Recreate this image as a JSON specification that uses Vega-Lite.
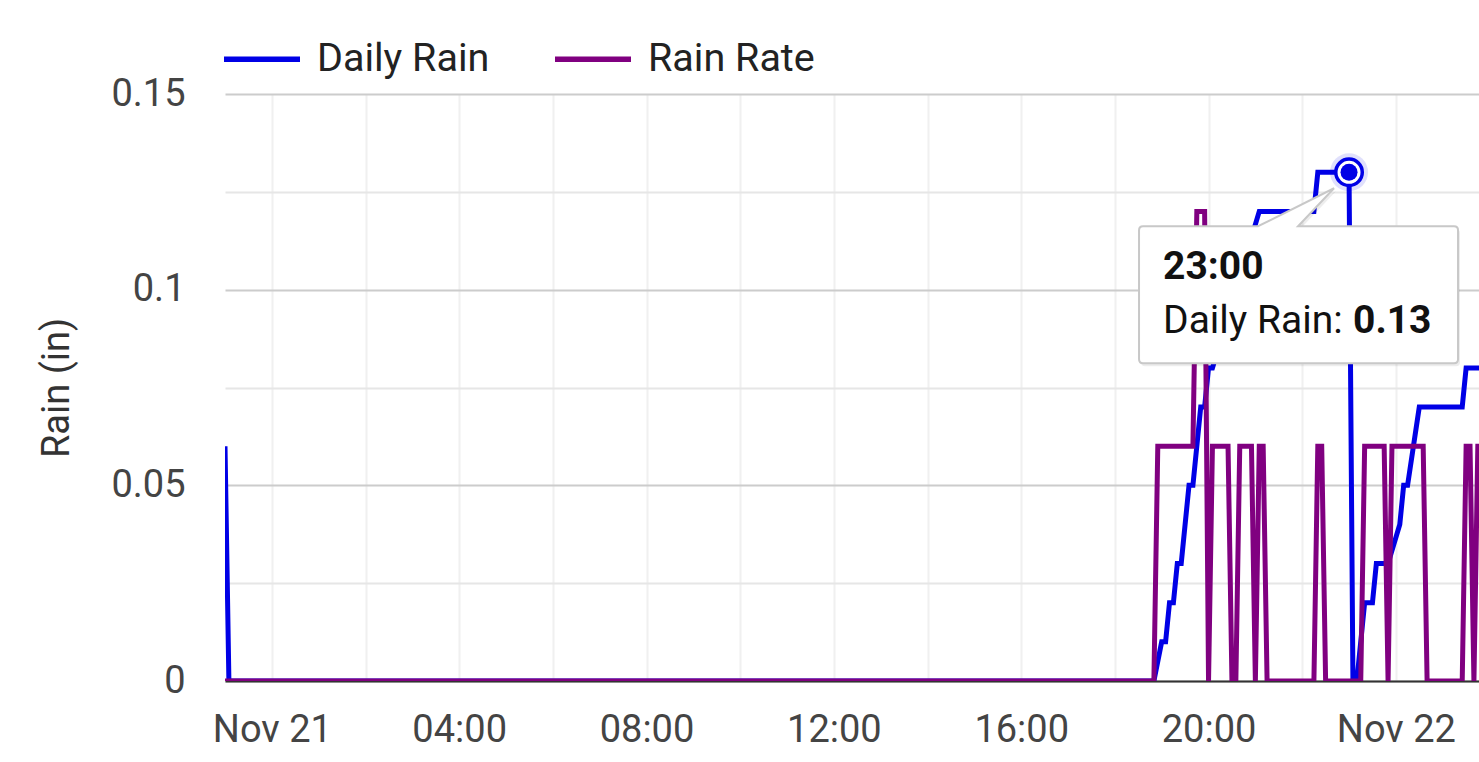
{
  "$schema": "https://vega.github.io/schema/vega-lite/v6.json",
  "autosize": "none",
  "width": 1254,
  "height": 587,
  "padding": {"left": 225, "top": 94, "right": 0, "bottom": 81},
  "background": "#ffffff",
  "config": {"view": {"stroke": null}, "font": "Roboto"},
  "datasets": {
    "rain": [
      {"t": "2023-11-20T23:00", "s": "Daily Rain", "v": 0.06},
      {"t": "2023-11-20T23:05", "s": "Daily Rain", "v": 0},
      {"t": "2023-11-21T18:50", "s": "Daily Rain", "v": 0},
      {"t": "2023-11-21T19:00", "s": "Daily Rain", "v": 0.01},
      {"t": "2023-11-21T19:05", "s": "Daily Rain", "v": 0.01},
      {"t": "2023-11-21T19:10", "s": "Daily Rain", "v": 0.02},
      {"t": "2023-11-21T19:15", "s": "Daily Rain", "v": 0.02},
      {"t": "2023-11-21T19:20", "s": "Daily Rain", "v": 0.03},
      {"t": "2023-11-21T19:25", "s": "Daily Rain", "v": 0.03},
      {"t": "2023-11-21T19:35", "s": "Daily Rain", "v": 0.05},
      {"t": "2023-11-21T19:40", "s": "Daily Rain", "v": 0.05},
      {"t": "2023-11-21T19:50", "s": "Daily Rain", "v": 0.07},
      {"t": "2023-11-21T19:55", "s": "Daily Rain", "v": 0.07},
      {"t": "2023-11-21T20:00", "s": "Daily Rain", "v": 0.08},
      {"t": "2023-11-21T20:05", "s": "Daily Rain", "v": 0.08},
      {"t": "2023-11-21T20:20", "s": "Daily Rain", "v": 0.09},
      {"t": "2023-11-21T20:35", "s": "Daily Rain", "v": 0.10},
      {"t": "2023-11-21T20:50", "s": "Daily Rain", "v": 0.11},
      {"t": "2023-11-21T21:05", "s": "Daily Rain", "v": 0.12},
      {"t": "2023-11-21T22:15", "s": "Daily Rain", "v": 0.12},
      {"t": "2023-11-21T22:20", "s": "Daily Rain", "v": 0.13},
      {"t": "2023-11-21T23:00", "s": "Daily Rain", "v": 0.13},
      {"t": "2023-11-21T23:05", "s": "Daily Rain", "v": 0},
      {"t": "2023-11-21T23:10", "s": "Daily Rain", "v": 0},
      {"t": "2023-11-21T23:15", "s": "Daily Rain", "v": 0.01},
      {"t": "2023-11-21T23:20", "s": "Daily Rain", "v": 0.02},
      {"t": "2023-11-21T23:30", "s": "Daily Rain", "v": 0.02},
      {"t": "2023-11-21T23:35", "s": "Daily Rain", "v": 0.03},
      {"t": "2023-11-21T23:50", "s": "Daily Rain", "v": 0.03},
      {"t": "2023-11-22T00:05", "s": "Daily Rain", "v": 0.04},
      {"t": "2023-11-22T00:10", "s": "Daily Rain", "v": 0.05},
      {"t": "2023-11-22T00:15", "s": "Daily Rain", "v": 0.05},
      {"t": "2023-11-22T00:30", "s": "Daily Rain", "v": 0.07},
      {"t": "2023-11-22T01:25", "s": "Daily Rain", "v": 0.07},
      {"t": "2023-11-22T01:30", "s": "Daily Rain", "v": 0.08},
      {"t": "2023-11-22T01:50", "s": "Daily Rain", "v": 0.08},
      {"t": "2023-11-20T23:00", "s": "Rain Rate", "v": 0},
      {"t": "2023-11-21T18:50", "s": "Rain Rate", "v": 0},
      {"t": "2023-11-21T18:55", "s": "Rain Rate", "v": 0.06},
      {"t": "2023-11-21T19:40", "s": "Rain Rate", "v": 0.06},
      {"t": "2023-11-21T19:45", "s": "Rain Rate", "v": 0.12},
      {"t": "2023-11-21T19:55", "s": "Rain Rate", "v": 0.12},
      {"t": "2023-11-21T20:00", "s": "Rain Rate", "v": 0},
      {"t": "2023-11-21T20:05", "s": "Rain Rate", "v": 0.06},
      {"t": "2023-11-21T20:25", "s": "Rain Rate", "v": 0.06},
      {"t": "2023-11-21T20:30", "s": "Rain Rate", "v": 0},
      {"t": "2023-11-21T20:35", "s": "Rain Rate", "v": 0},
      {"t": "2023-11-21T20:40", "s": "Rain Rate", "v": 0.06},
      {"t": "2023-11-21T20:55", "s": "Rain Rate", "v": 0.06},
      {"t": "2023-11-21T21:00", "s": "Rain Rate", "v": 0},
      {"t": "2023-11-21T21:05", "s": "Rain Rate", "v": 0.06},
      {"t": "2023-11-21T21:10", "s": "Rain Rate", "v": 0.06},
      {"t": "2023-11-21T21:15", "s": "Rain Rate", "v": 0},
      {"t": "2023-11-21T22:15", "s": "Rain Rate", "v": 0},
      {"t": "2023-11-21T22:20", "s": "Rain Rate", "v": 0.06},
      {"t": "2023-11-21T22:25", "s": "Rain Rate", "v": 0.06},
      {"t": "2023-11-21T22:30", "s": "Rain Rate", "v": 0},
      {"t": "2023-11-21T23:15", "s": "Rain Rate", "v": 0},
      {"t": "2023-11-21T23:20", "s": "Rain Rate", "v": 0.06},
      {"t": "2023-11-21T23:45", "s": "Rain Rate", "v": 0.06},
      {"t": "2023-11-21T23:50", "s": "Rain Rate", "v": 0},
      {"t": "2023-11-21T23:55", "s": "Rain Rate", "v": 0.06},
      {"t": "2023-11-22T00:35", "s": "Rain Rate", "v": 0.06},
      {"t": "2023-11-22T00:40", "s": "Rain Rate", "v": 0},
      {"t": "2023-11-22T01:25", "s": "Rain Rate", "v": 0},
      {"t": "2023-11-22T01:30", "s": "Rain Rate", "v": 0.06},
      {"t": "2023-11-22T01:35", "s": "Rain Rate", "v": 0.06},
      {"t": "2023-11-22T01:40", "s": "Rain Rate", "v": 0},
      {"t": "2023-11-22T01:45", "s": "Rain Rate", "v": 0.06},
      {"t": "2023-11-22T01:50", "s": "Rain Rate", "v": 0.06}
    ],
    "hover": [
      {"t": "2023-11-21T23:00", "s": "Daily Rain", "v": 0.13}
    ]
  },
  "layer": [
    {
      "data": {"name": "rain"},
      "mark": {"type": "line", "strokeWidth": 5, "clip": true},
      "encoding": {
        "x": {
          "field": "t",
          "type": "temporal",
          "scale": {
            "domain": [
              {"year": 2023, "month": 11, "date": 20, "hours": 23},
              {"year": 2023, "month": 11, "date": 22, "hours": 1, "minutes": 46, "seconds": 30}
            ]
          },
          "axis": {
            "title": null,
            "values": [
              {"year": 2023, "month": 11, "date": 21, "hours": 0},
              {"year": 2023, "month": 11, "date": 21, "hours": 2},
              {"year": 2023, "month": 11, "date": 21, "hours": 4},
              {"year": 2023, "month": 11, "date": 21, "hours": 6},
              {"year": 2023, "month": 11, "date": 21, "hours": 8},
              {"year": 2023, "month": 11, "date": 21, "hours": 10},
              {"year": 2023, "month": 11, "date": 21, "hours": 12},
              {"year": 2023, "month": 11, "date": 21, "hours": 14},
              {"year": 2023, "month": 11, "date": 21, "hours": 16},
              {"year": 2023, "month": 11, "date": 21, "hours": 18},
              {"year": 2023, "month": 11, "date": 21, "hours": 20},
              {"year": 2023, "month": 11, "date": 21, "hours": 22},
              {"year": 2023, "month": 11, "date": 22, "hours": 0}
            ],
            "grid": true,
            "gridColor": "#f0f0f0",
            "gridWidth": 2,
            "ticks": false,
            "tickSize": 0,
            "labelPadding": 30,
            "labelFontSize": 38,
            "labelColor": "#444444",
            "labelFont": "Roboto",
            "labelFlush": false,
            "labelOverlap": false,
            "labelExpr": "hours(datum.value) % 4 === 0 ? (hours(datum.value) === 0 ? timeFormat(datum.value, '%b %d') : timeFormat(datum.value, '%H:%M')) : ''",
            "domainColor": "#333333",
            "domainWidth": 2
          }
        },
        "y": {
          "field": "v",
          "type": "quantitative",
          "scale": {"domain": [0, 0.15], "nice": false},
          "axis": {
            "title": "Rain (in)",
            "values": [0, 0.025, 0.05, 0.075, 0.1, 0.125, 0.15],
            "format": ".3~f",
            "labelExpr": "round(datum.value * 1000) % 50 === 0 ? datum.label : ''",
            "gridColor": {"condition": {"test": "round(datum.value * 1000) % 50 === 0", "value": "#cccccc"}, "value": "#e6e6e6"},
            "gridWidth": 2,
            "domain": false,
            "ticks": false,
            "tickSize": 0,
            "labelPadding": 40,
            "labelFontSize": 38,
            "labelColor": "#444444",
            "labelFont": "Roboto",
            "labelOverlap": false,
            "titleFont": "Roboto",
            "titleFontSize": 38,
            "titleFontWeight": "normal",
            "titleColor": "#333333",
            "titleX": -168,
            "titleY": 293.5,
            "titleAngle": -90,
            "titleAlign": "center",
            "titleBaseline": "middle"
          }
        },
        "color": {
          "field": "s",
          "type": "nominal",
          "scale": {"domain": ["Daily Rain", "Rain Rate"], "range": ["#0000e6", "#800080"]},
          "legend": {
            "title": null,
            "orient": "none",
            "legendX": -4,
            "legendY": -76,
            "direction": "horizontal",
            "padding": 0,
            "symbolType": "stroke",
            "symbolSize": 5776,
            "symbolStrokeWidth": 5.5,
            "labelFont": "Roboto",
            "labelFontSize": 39.5,
            "labelColor": "#222222",
            "labelLimit": 500,
            "labelOffset": 14,
            "columnPadding": 54
          }
        }
      }
    },
    {
      "data": {"name": "hover"},
      "mark": {
        "type": "point",
        "shape": "M -2.06 0.54 L -0.91 0.54 L -0.15 0.16 L -0.51 0.54 L 1.05 0.54 Q 1.09 0.54 1.09 0.58 L 1.09 1.87 Q 1.09 1.91 1.05 1.91 L -2.06 1.91 Q -2.10 1.91 -2.10 1.87 L -2.10 0.58 Q -2.10 0.54 -2.06 0.54 Z",
        "size": 40000,
        "filled": true,
        "fill": "#000000",
        "fillOpacity": 0.07,
        "strokeWidth": 0,
        "opacity": 1,
        "xOffset": 2,
        "yOffset": 3
      },
      "encoding": {
        "x": {"field": "t", "type": "temporal"},
        "y": {"field": "v", "type": "quantitative"}
      }
    },
    {
      "data": {"name": "hover"},
      "mark": {
        "type": "point",
        "shape": "M -2.06 0.54 L -0.91 0.54 L -0.15 0.16 L -0.51 0.54 L 1.05 0.54 Q 1.09 0.54 1.09 0.58 L 1.09 1.87 Q 1.09 1.91 1.05 1.91 L -2.06 1.91 Q -2.10 1.91 -2.10 1.87 L -2.10 0.58 Q -2.10 0.54 -2.06 0.54 Z",
        "size": 40000,
        "filled": true,
        "fill": "#ffffff",
        "stroke": "#c8c8c8",
        "strokeWidth": 2,
        "opacity": 1
      },
      "encoding": {
        "x": {"field": "t", "type": "temporal"},
        "y": {"field": "v", "type": "quantitative"}
      }
    },
    {
      "data": {"name": "hover"},
      "mark": {"type": "text", "align": "left", "baseline": "alphabetic", "dx": -186, "dy": 107, "font": "Roboto", "fontSize": 39, "fontWeight": "bold", "color": "#111111"},
      "encoding": {
        "x": {"field": "t", "type": "temporal"},
        "y": {"field": "v", "type": "quantitative"},
        "text": {"field": "t", "type": "temporal", "format": "%H:%M"}
      }
    },
    {
      "data": {"name": "hover"},
      "mark": {"type": "text", "align": "left", "baseline": "alphabetic", "dx": -186, "dy": 161, "font": "Roboto", "fontSize": 39, "color": "#111111", "text": "Daily Rain:"},
      "encoding": {
        "x": {"field": "t", "type": "temporal"},
        "y": {"field": "v", "type": "quantitative"}
      }
    },
    {
      "data": {"name": "hover"},
      "mark": {"type": "text", "align": "left", "baseline": "alphabetic", "dx": 4, "dy": 161, "font": "Roboto", "fontSize": 39, "fontWeight": "bold", "color": "#111111"},
      "encoding": {
        "x": {"field": "t", "type": "temporal"},
        "y": {"field": "v", "type": "quantitative"},
        "text": {"field": "v", "type": "quantitative", "format": ".2f"}
      }
    },
    {
      "data": {"name": "hover"},
      "mark": {"type": "point", "shape": "circle", "size": 1444, "filled": true, "fill": "#0000e6", "fillOpacity": 0.12, "strokeWidth": 0, "opacity": 1},
      "encoding": {
        "x": {"field": "t", "type": "temporal"},
        "y": {"field": "v", "type": "quantitative"}
      }
    },
    {
      "data": {"name": "hover"},
      "mark": {"type": "point", "shape": "circle", "size": 702, "filled": true, "fill": "#ffffff", "stroke": "#0000e6", "strokeWidth": 3.5, "opacity": 1},
      "encoding": {
        "x": {"field": "t", "type": "temporal"},
        "y": {"field": "v", "type": "quantitative"}
      }
    },
    {
      "data": {"name": "hover"},
      "mark": {"type": "point", "shape": "circle", "size": 289, "filled": true, "fill": "#0000e6", "strokeWidth": 0, "opacity": 1},
      "encoding": {
        "x": {"field": "t", "type": "temporal"},
        "y": {"field": "v", "type": "quantitative"}
      }
    }
  ]
}
